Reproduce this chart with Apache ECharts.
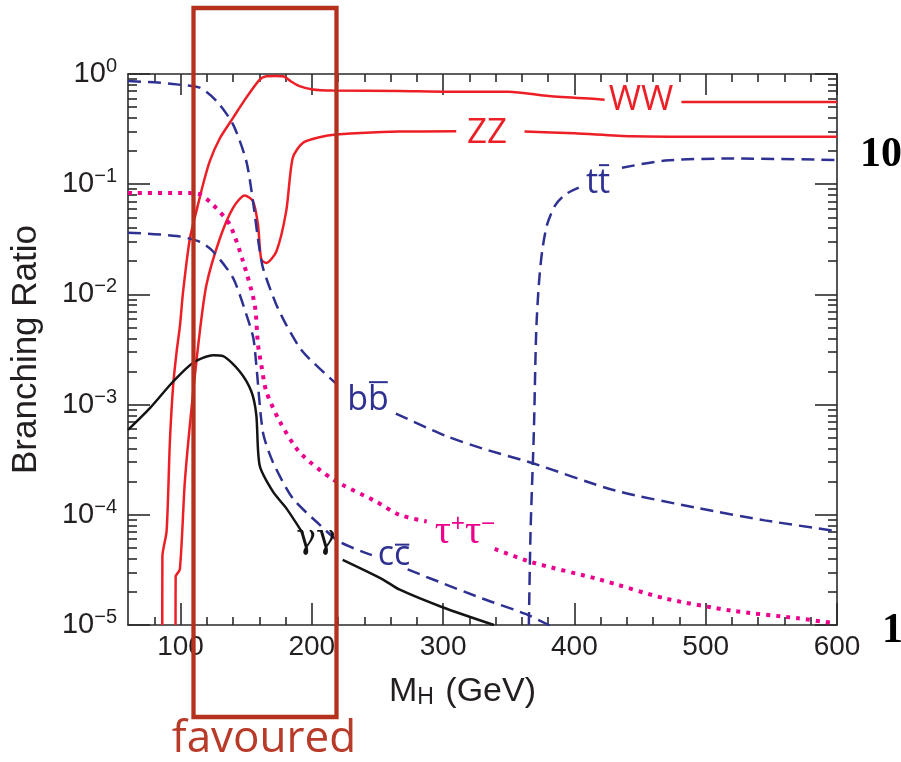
<!DOCTYPE html>
<html><head><meta charset="utf-8">
<script src="https://cdn.jsdelivr.net/npm/echarts@6/dist/echarts.min.js"></script>
<style>html,body{margin:0;padding:0;background:#fff}#c{width:901px;height:762px}</style>
</head><body><div id="c"></div>
<script>
// ---------- tick labels ----------
const X_MAJOR = [100, 200, 300, 400, 500, 600];
const X_MINOR = [80, 120, 140, 160, 180, 220, 240, 260, 280, 320, 340, 360, 380, 420, 440, 460, 480, 520, 540, 560, 580];
const Y_DECADES = [-5, -4, -3, -2, -1, 0];
const Y_MINOR_MULT = [2, 3, 4, 5, 6, 7, 8, 9];

// ---------- series values (M_H in GeV, branching ratio); null = gap for label ----------
const WW_MH = [86.1, 86.2, 89.4, 91.9, 94.4, 97.0, 99.5, 102, 107.1, 112.1, 117.2, 122.3, 129.9, 140, 150.1, 160.3, 165.3, 172, 178, 184, 190.6, 200.7, 215.7, 266.6, 304.5, 350, 380.5, 418.5, 423, 450, 481.5, 540, 600];
const WW_BR = [1e-5, 4.2e-5, 7.1e-5, 4.6e-4, 1.5e-3, 3.0e-3, 5.1e-3, 0.0107, 0.032, 0.057, 0.10, 0.162, 0.26, 0.40, 0.61, 0.89, 0.955, 0.96, 0.955, 0.86, 0.776, 0.724, 0.708, 0.70, 0.69, 0.69, 0.63, 0.59, 0.585, null, 0.556, 0.556, 0.556];

const ZZ_MH = [96.2, 96.3, 99.5, 103.3, 108.4, 114.7, 119.8, 129.9, 140, 148.9, 155.2, 159, 161.5, 165.3, 173, 180.5, 185.5, 193.1, 205.8, 218.5, 266.6, 310, 336, 362, 400, 443.5, 520, 600];
const ZZ_BR = [1e-5, 2.75e-5, 3.2e-5, 2.0e-4, 9.3e-4, 4.6e-3, 0.0123, 0.032, 0.061, 0.079, 0.070, 0.043, 0.0207, 0.0193, 0.0245, 0.057, 0.174, 0.237, 0.267, 0.282, 0.30, 0.303, null, 0.30, 0.29, 0.273, 0.27, 0.27];

const TT_MH = [365.3, 366.6, 369.1, 370.9, 372.9, 375.4, 379.2, 385.6, 393.2, 403.3, 420, 436.2, 469.1, 519.7, 600];
const TT_BR = [1e-5, 7.1e-5, 5.6e-4, 4.6e-3, 0.0123, 0.0245, 0.043, 0.065, 0.081, 0.093, null, 0.141, 0.164, 0.171, 0.166];

const BB_MH = [60, 80, 97, 114.7, 127.4, 140, 150.1, 155.2, 159, 162.8, 172.9, 180.5, 190.6, 198.2, 218.5, 240, 264, 302, 329.8, 367.8, 431.1, 494.4, 545, 600];
const BB_BR = [0.863, 0.84, 0.805, 0.752, 0.569, 0.349, 0.162, 0.070, 0.032, 0.0174, 0.0081, 0.0053, 0.0033, 0.0026, 0.00155, null, 8.3e-4, 5.2e-4, 4.0e-4, 2.95e-4, 1.66e-4, 1.15e-4, 8.9e-5, 7.1e-5];

const CC_MH = [60, 97, 114.7, 124.8, 140, 150.1, 155.5, 157.7, 162.8, 170.4, 185.5, 203.3, 221, 245.7, 260, 273, 291.9, 329.8, 362.8, 380.5, 384];
const CC_BR = [0.0363, 0.0339, 0.030, 0.0245, 0.0141, 0.0066, 0.004, 0.0023, 5.6e-4, 3.0e-4, 1.41e-4, 8.7e-5, 5.7e-5, 4.3e-5, null, 3.2e-5, 2.6e-5, 1.74e-5, 1.26e-5, 1.0e-5, 0.95e-5];

const TAU_MH = [60, 107.1, 114.7, 124.8, 137.5, 147.6, 156.5, 159, 161.5, 165.3, 175.4, 190.6, 215.9, 248.9, 266.6, 287.5, 310, 339.3, 367.8, 418.5, 469.1, 519.7, 570.4, 595];
const TAU_BR = [0.083, 0.083, 0.081, 0.065, 0.043, 0.020, 0.0081, 0.0035, 0.0023, 0.00132, 7.1e-4, 3.7e-4, 2.1e-4, 1.32e-4, 1.0e-4, 8.7e-5, null, 4.9e-5, 3.7e-5, 2.6e-5, 1.74e-5, 1.35e-5, 1.15e-5, 1.05e-5];

const GG_MH = [60, 76.7, 94.4, 109.6, 124.8, 132.4, 145.1, 153.9, 157.7, 160.3, 170.4, 180.5, 193.1, 208, 223.5, 253.9, 266.6, 299.5, 338.7];
const GG_BR = [5.9e-4, 9.3e-4, 1.62e-3, 2.4e-3, 2.8e-3, 2.75e-3, 2.0e-3, 1.32e-3, 8.1e-4, 2.8e-4, 1.62e-4, 1.15e-4, 6.8e-5, null, 3.9e-5, 2.6e-5, 2.1e-5, 1.45e-5, 1.0e-5];

// ---------- styling ----------
const RED = '#ed1f26', BLUE = '#2e3192', MAG = '#ec008c', BLK = '#141414', BOX = '#b5311e';
const AX = '#2a2a2a', TXT = '#231f20';
const SANS = '"Liberation Sans", Arial, sans-serif';
const ANN = '"Open Sans", "Liberation Sans", sans-serif';
const SERIF = '"Liberation Serif", "DejaVu Serif", serif';
const GREEK = '"DejaVu Serif", "Liberation Serif", serif';

function pairs(mh, br) { return mh.map((x, i) => [x, br[i] === null ? '-' : br[i]]); }
function lineSeries(name, mh, br, color, width, dash) {
  return {
    name, type: 'line', xAxisIndex: 0, yAxisIndex: 0, data: pairs(mh, br),
    showSymbol: false, symbol: 'none', smooth: 0.25, connectNulls: false,
    lineStyle: { color, width, type: dash || 'solid', cap: 'butt' }, z: 3, silent: true
  };
}

const yMinorVals = [];
Y_DECADES.slice(0, -1).forEach(d => Y_MINOR_MULT.forEach(m => yMinorVals.push(d + Math.log10(m))));

const tickStyle = { color: AX, width: 1.6 };
function xAxisDef(pos, vals, len, main) {
  return {
    type: 'value', min: 60, max: 600, position: pos, gridIndex: 0,
    axisLine: { show: main, onZero: false, lineStyle: { color: AX, width: 1.6 } },
    axisTick: { show: true, inside: true, length: len, customValues: vals, lineStyle: tickStyle },
    axisLabel: pos === 'bottom' && main ? { show: true, customValues: X_MAJOR, fontSize: 28, fontFamily: SANS, color: TXT, margin: 8 } : { show: false },
    splitLine: { show: false }
  };
}
function yLogDef(pos, showLabel) {
  return {
    type: 'log', logBase: 10, min: 1e-5, max: 1, position: pos, gridIndex: 0,
    axisLine: { show: true, onZero: false, lineStyle: { color: AX, width: 1.6 } },
    axisTick: { show: true, inside: true, length: 22, lineStyle: tickStyle },
    axisLabel: showLabel ? {
      show: true, margin: 11, padding: [0, 0, 6, 0],
      formatter: v => { const e = Math.round(Math.log10(v)); return '{b|10}{s|' + (e === 0 ? '0' : '\u2212' + (-e)) + '}'; },
      rich: {
        b: { fontSize: 29, fontFamily: SANS, color: TXT, lineHeight: 29, padding: [6, 0, 0, 0] },
        s: { fontSize: 20, fontFamily: SANS, color: TXT, lineHeight: 20, verticalAlign: 'top' }
      }
    } : { show: false },
    splitLine: { show: false }
  };
}
function yMinorDef(pos) {
  return {
    type: 'value', min: -5, max: 0, position: pos, gridIndex: 0,
    axisLine: { show: false, onZero: false },
    axisTick: { show: true, inside: true, length: 9, customValues: yMinorVals, lineStyle: tickStyle },
    axisLabel: { show: false }, splitLine: { show: false }
  };
}

const xMain = xAxisDef('bottom', X_MAJOR, 22, true);
xMain.name = '{m|M}{h|H}{m| (GeV)}';
xMain.nameLocation = 'middle';
xMain.nameGap = 46;
xMain.nameTextStyle = {
  padding: [0, 40, 0, 0],
  rich: {
    m: { fontSize: 34, fontFamily: SANS, color: TXT, lineHeight: 34, verticalAlign: 'top' },
    h: { fontSize: 23, fontFamily: SANS, color: TXT, lineHeight: 23, verticalAlign: 'bottom', padding: [20, 2, 0, 0] }
  }
};
const yMain = yLogDef('left', true);
yMain.name = 'Branching Ratio';
yMain.nameLocation = 'middle';
yMain.nameGap = 84;
yMain.nameTextStyle = { fontSize: 35, fontFamily: SANS, color: TXT };

// ---------- annotation helpers ----------
const mctx = document.createElement('canvas').getContext('2d');
function tw(t, font) { mctx.font = font; return mctx.measureText(t).width; }
function label(text, cx, base, fs, color, family, overIdx, overH) {
  const font = 'normal ' + fs + 'px ' + family;
  const els = [{
    type: 'text', z: 50, silent: true,
    style: { text, x: cx, y: base - 0.33 * fs, font, fill: color, align: 'center', verticalAlign: 'middle', textAlign: 'center', textVerticalAlign: 'middle' }
  }];
  if (overIdx !== undefined) {
    const w = tw(text, font);
    const x0 = cx - w / 2 + tw(text.slice(0, overIdx), font);
    const x1 = cx - w / 2 + tw(text.slice(0, overIdx + 1), font);
    const y = base - overH * fs - 4;
    els.push({ type: 'line', z: 50, silent: true, shape: { x1: x0 + 1, y1: y, x2: x1 - 1, y2: y }, style: { stroke: color, lineWidth: 2 } });
  }
  return els;
}

const graphics = [].concat(
  label('WW', 641, 112, 35, RED, ANN),
  label('ZZ', 487, 145, 35, RED, ANN),
  label('tt', 598, 195, 34, BLUE, ANN, 1, 0.76),
  label('bb', 368, 412, 34, BLUE, ANN, 1, 0.76),
  label('cc', 394, 567, 34, BLUE, ANN, 1, 0.54),
  label('\u03b3\u03b3', 316, 550, 33, BLK, GREEK),
  [{
    type: 'text', z: 50, silent: true,
    style: {
      text: '{a|\u03c4}{s|+}{a|\u03c4}{s|\u2212}', x: 465, y: 532, align: 'center', verticalAlign: 'middle', textAlign: 'center', textVerticalAlign: 'middle',
      rich: {
        a: { fontSize: 40, fontFamily: SERIF, fill: MAG, color: MAG, lineHeight: 40, verticalAlign: 'bottom', padding: [8, 0, 0, 0] },
        s: { fontSize: 25, fontFamily: ANN, fill: MAG, color: MAG, lineHeight: 25, verticalAlign: 'top' }
      }
    }
  }],
  [
    { type: 'rect', z: 60, silent: true, shape: { x: 193.5, y: 8, width: 143, height: 709 }, style: { fill: 'none', stroke: BOX, lineWidth: 4.3 } },
    { type: 'text', z: 60, silent: true, style: { text: 'favoured', x: 264, y: 739, font: 'normal 44px ' + ANN, fill: '#b83a28', align: 'center', verticalAlign: 'middle', textAlign: 'center', textVerticalAlign: 'middle' } },
    { type: 'text', z: 60, silent: true, style: { text: '10', x: 860, y: 155, font: 'bold 42px ' + SERIF, fill: '#000', align: 'left', verticalAlign: 'middle', textAlign: 'left', textVerticalAlign: 'middle' } },
    { type: 'text', z: 60, silent: true, style: { text: '1', x: 882, y: 631, font: 'bold 42px ' + SERIF, fill: '#000', align: 'left', verticalAlign: 'middle', textAlign: 'left', textVerticalAlign: 'middle' } }
  ]
);

const chart = echarts.init(document.getElementById('c'), null, { renderer: 'canvas' });
chart.setOption({
  backgroundColor: '#ffffff',
  animation: false,
  grid: { left: 128, top: 74, width: 709, height: 551, containLabel: false },
  xAxis: [xMain, xAxisDef('bottom', X_MINOR, 8, false), xAxisDef('top', X_MAJOR, 21, true), xAxisDef('top', X_MINOR, 8, false)],
  yAxis: [yMain, yMinorDef('left'), yLogDef('right', false), yMinorDef('right')],
  series: [
    lineSeries('WW', WW_MH, WW_BR, RED, 2.5),
    lineSeries('ZZ', ZZ_MH, ZZ_BR, RED, 2.5),
    lineSeries('tt', TT_MH, TT_BR, BLUE, 2.5, [13, 7]),
    lineSeries('bb', BB_MH, BB_BR, BLUE, 2.5, [13, 7]),
    lineSeries('cc', CC_MH, CC_BR, BLUE, 2.5, [13, 7]),
    lineSeries('tautau', TAU_MH, TAU_BR, MAG, 4, [4, 6]),
    lineSeries('gammagamma', GG_MH, GG_BR, BLK, 2.5)
  ],
  graphic: { elements: graphics }
});
</script></body></html>
